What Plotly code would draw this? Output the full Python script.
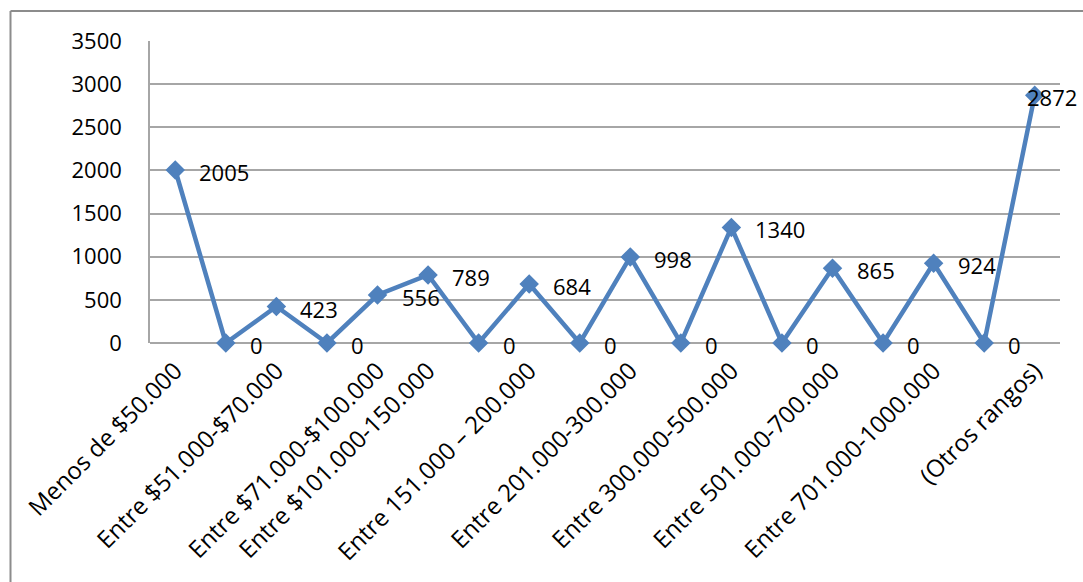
import plotly.graph_objects as go

# Income ranges; blank entries are unlabelled positions along the axis
categories = [
    "Menos de $50.000", "", "Entre $51.000-$70.000", "",
    "Entre $71.000-$100.000", "Entre $101.000-150.000", "",
    "Entre 151.000 – 200.000", "", "Entre 201.000-300.000", "",
    "Entre 300.000-500.000", "", "Entre 501.000-700.000", "",
    "Entre 701.000-1000.000", "", "(Otros rangos)",
]
values = [2005, 0, 423, 0, 556, 789, 0, 684, 0, 998, 0, 1340, 0, 865, 0, 924, 0, 2872]
y_ticks = [0, 500, 1000, 1500, 2000, 2500, 3000, 3500]

x = list(range(len(values)))
tick_pos = [i for i, c in enumerate(categories) if c]
tick_txt = [c for c in categories if c]

FONT = "Open Sans"
BLUE = "#4F81BD"
GRID = "#A6A6A6"

fig = go.Figure()
fig.add_trace(go.Scatter(
    x=x, y=values, mode="lines+markers",
    line=dict(color=BLUE, width=4.5),
    marker=dict(symbol="diamond", size=15, color=BLUE),
    cliponaxis=False, showlegend=False,
))

# value labels to the right of each point
for i, v in enumerate(values):
    last = i == len(values) - 1
    fig.add_annotation(
        x=i, y=v, text=str(v), showarrow=False,
        xanchor="left", yanchor="middle",
        xshift=-10 if last else 22, yshift=-2,
        font=dict(family=FONT, size=22, color="#000000"),
    )

# outer chart frame
W, H = 1083, 582
L, R, T, B = 150, 23, 41, 239
pw, ph = W - L - R, H - T - B
def px(xp): return (xp - L) / pw
def py(yp): return (H - B - yp) / ph
fig.add_shape(type="line", xref="paper", yref="paper",
              x0=px(10.5), x1=px(W + 5), y0=py(11), y1=py(11),
              line=dict(color="#8C8C8C", width=2))
fig.add_shape(type="line", xref="paper", yref="paper",
              x0=px(10.5), x1=px(10.5), y0=py(11), y1=py(H + 5),
              line=dict(color="#8C8C8C", width=2))

fig.update_layout(
    width=W, height=H,
    margin=dict(l=L, r=R, t=T, b=B, autoexpand=False),
    paper_bgcolor="white", plot_bgcolor="white",
    font=dict(family=FONT, size=22, color="#000000"),
    xaxis=dict(
        range=[-0.5, len(values) - 0.5],
        tickmode="array", tickvals=tick_pos, ticktext=tick_txt,
        tickangle=-45, showgrid=False, zeroline=False,
        showline=False, ticks="", ticklabelstandoff=8,
        tickfont=dict(family=FONT, size=24, color="#000000"),
        automargin=False,
    ),
    yaxis=dict(
        range=[0, 3500], tickmode="array", tickvals=y_ticks,
        showgrid=True, gridcolor=GRID, gridwidth=1.5,
        zeroline=True, zerolinecolor=GRID, zerolinewidth=1.5,
        showline=True, linecolor=GRID, linewidth=1.5,
        ticks="", ticklabelstandoff=22,
        tickfont=dict(family=FONT, size=22, color="#000000"),
        automargin=False,
    ),
)

fig.write_html("out.html")
